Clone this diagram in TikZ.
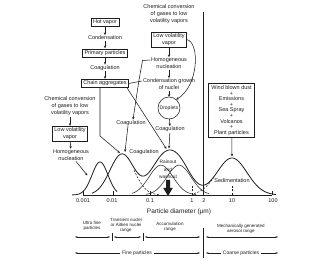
\documentclass[tikz,border=0pt]{standalone}
\usepackage{fontspec}
\setmainfont{Liberation Sans}
\usetikzlibrary{arrows.meta,calc}
\definecolor{ink}{HTML}{1E1E1E}
\begin{document}
\begin{tikzpicture}[x=1pt,y=-1pt,
  every node/.style={inner sep=0pt,outer sep=0pt,align=center,text=ink},
  txt/.style={font=\fontsize{5.5}{7}\selectfont},
  small/.style={font=\fontsize{4.8}{7.4}\selectfont},
  rng/.style={font=\fontsize{4.5}{5}\selectfont},
  rngb/.style={font=\fontsize{5}{6}\selectfont},
  box/.style={txt,draw=ink,line width=0.55pt,inner xsep=2pt,inner ysep=1.3pt},
  ln/.style={draw=ink,line width=0.55pt},
  arr/.style={ln,-{Stealth[length=2.8pt,width=2.3pt]}},
  dimarr/.style={ln,line width=0.5pt,-{Stealth[length=2.6pt,width=1.8pt]}},
  crv/.style={draw=ink,line width=0.8pt},
  sub/.style={draw=ink,line width=0.5pt},
  dsh/.style={draw=ink,line width=0.55pt,dash pattern=on 2pt off 1.5pt},
  declare function={g(\x,\c,\s)=exp(-0.5*((\x-\c)/\s)^2);},
]
\fill[white] (0,0) rectangle (330,261);
\useasboundingbox (0,0) rectangle (330,261);

% ---------- top left chain
\node[box] (hot) at (105,22.5) {Hot vapor};
\node[txt] (cond) at (105,38) {Condensation};
\node[box] (prim) at (105,53) {Primary particles};
\node[txt] (coag0) at (105,68) {Coagulation};
\node[box] (chain) at (105,83.5) {Chain aggregates};
\draw[arr,shorten <=0.8pt,shorten >=0.8pt] (hot) -- (cond);
\draw[arr,shorten <=0.8pt,shorten >=0.8pt] (cond) -- (prim);
\draw[arr,shorten <=0.8pt,shorten >=0.8pt] (prim) -- (coag0);
\draw[arr,shorten <=0.8pt,shorten >=0.8pt] (coag0) -- (chain);

% ---------- middle column
\node[txt] (chem1) at (169,14) {Chemical conversion\\of gases to low\\volatility vapors};
\node[box] (lvv1) at (169,39.5) {Low volatility\\vapor};
\node[txt] (hom1) at (169,63.5) {Homogeneous\\nucleation};
\node[txt] (cgn) at (169,84.5) {Condensation growth\\of nuclei};
\node[circle,draw=ink,line width=0.55pt,minimum size=22pt,font=\fontsize{5}{6}\selectfont] (drop) at (169,108) {Droplets};
\node[txt] (coag2) at (170,129.5) {Coagulation};
\node[txt] (coag1) at (131,123) {Coagulation};
\node[txt] (coag3) at (144,152.5) {Coagulation};
\draw[arr,shorten <=0.8pt,shorten >=0.8pt] (lvv1) -- (hom1);
\draw[arr,shorten <=0.8pt,shorten >=0.8pt] (hom1) -- (cgn);
\draw[arr,shorten <=0.8pt] (cgn) -- (drop);
\draw[arr,shorten >=0.8pt] (drop) -- (coag2);
\draw[arr] (lvv1.east) .. controls (200,42) and (199,86) .. (drop.50);

% ---------- curve peaks
\coordinate (pk1) at (100,162);
\coordinate (pk2) at (122,154);
\coordinate (pk3) at (170,150);
\coordinate (pk4) at (232,158);
\coordinate (m1l) at (87.5,175.5);

\draw[arr,shorten <=0.8pt] (coag2) -- ($(pk3)+(-1,-1.5)$);

% ---------- connectors from chain aggregates / nucleation
\draw[arr] ($(chain.south east)+(-2,0)$) -- ($(pk3)+(-3.5,-1)$);
\draw[arr] ($(chain.south)+(-5,0)$) -- (100,136) -- ($(pk2)+(-2,-1)$);
\draw[arr] ($(hom1.west)+(-1,-3.5)$) -- (142.5,60.5) -- (139,80) -- ($(coag1.north)+(2,-0.8)$);
\draw[ln] (chain.east) -- ($(cgn.west)+(-1,-3.5)$);
\draw[arr] ($(coag1.south)+(-3,0)$) -- ($(pk2)+(3,-2)$);

% ---------- lower left group
\node[txt] (chem2) at (70,106.5) {Chemical conversion\\of gases to low\\volatility vapors};
\node[box] (lvv2) at (70,134) {Low volatility\\vapor};
\node[txt] (hom2) at (71,155) {Homogeneous\\nucleation};
\draw[arr,shorten <=0.8pt,shorten >=0.8pt] (chem2) -- (lvv2);
\draw[arr,shorten <=0.8pt,shorten >=0.8pt] (lvv2) -- (hom2);
\draw[arr] ($(hom2.south)+(5,1)$) -- (m1l);

% ---------- right sources
\node[draw=ink,line width=0.55pt,font=\fontsize{5.5}{5.6}\selectfont,inner xsep=3pt,inner ysep=2pt] (src) at (231.5,110.5) {Wind blown dust\\+\\Emissions\\+\\Sea Spray\\+\\Volcanos\\+\\Plant particles};
\draw[arr] (src) -- ($(pk4)+(0,-1.5)$);
\node[txt] (sed) at (232,181) {Sedimentation};

% ---------- 2 um divider
\coordinate (vtop) at (203,12);
\coordinate (vbot) at (203,195);
\draw[ln] (vtop) -- (vbot);

% ---------- curves
\draw[crv] plot[domain=72:117,samples=50] (\x,{195-33*g(\x,100,8)});
\draw[crv] plot[domain=92:276,samples=190] (\x,{195-41*g(\x,122,12)-29.8*g(\x,161,12)-29.8*g(\x,179,12)-37*g(\x,232,15)});
\draw[dsh] plot[domain=134:160,samples=30] (\x,{195-41*g(\x,122,12)});
\draw[sub] plot[domain=132:196,samples=60] (\x,{195-29.8*g(\x,161,12)});
\draw[sub] plot[domain=146:209,samples=60] (\x,{195-29.8*g(\x,179,12)});
\draw[dsh] plot[domain=194:214,samples=20] (\x,{195-37*g(\x,232,15)});

% ---------- axis
\draw[ln] (83,195) -- (272,195);
\foreach \t in {83,113,150,272} \draw[ln] (\t,195) -- (\t,191.5);
\foreach \t in {192,232} \draw[dsh] (\t,195) -- (\t,185);
\node[txt] (t1) at (83,200.5) {0.001};
\node[txt] (t2) at (112,200.5) {0.01};
\node[txt] (t3) at (150,200.5) {0.1};
\node[txt] (t4) at (192,200.5) {1};
\node[txt] (t5) at (204,200.5) {2};
\node[txt] (t6) at (232,200.5) {10};
\node[txt] (t7) at (273,200.5) {100};
\node[font=\fontsize{6.5}{7}\selectfont] (xlab) at (179,212) {Particle diameter (\textmu m)};

% ---------- rainout
\node[small] (rain) at (168,169.5) {Rainout\\and\\washout};
\fill[ink] (166,180) -- (170,180) -- (170,188) -- (172.8,188) -- (168,196) -- (163.2,188) -- (166,188) -- cycle;

% ---------- ranges
\node[rng] (r1) at (92,226) {Ultra fine\\particles};
\node[rng] (r2) at (126,225) {Transient nuclei\\or Aitken nuclei\\range};
\node[rng] (r3) at (170,227) {Accumulation\\range};
\node[rng] (r4) at (241,228.5) {Mechanically generated\\aerosol range};
\coordinate (a0) at (75,237);
\coordinate (a1) at (110,237);
\coordinate (a2) at (114,237);
\coordinate (a3) at (141,237);
\coordinate (a4) at (145,237);
\coordinate (a5) at (200,237);
\coordinate (a6) at (206,237);
\coordinate (a7) at (278,237);
\draw[dimarr] (r1 |- a0) -- (a0);
\draw[dimarr] (r1 |- a0) -- (a1);
\draw[dimarr] (r2 |- a0) -- (a2);
\draw[dimarr] (r2 |- a0) -- (a3);
\draw[dimarr] (r3 |- a0) -- (a4);
\draw[dimarr] (r3 |- a0) -- (a5);
\draw[dimarr] (r4 |- a0) -- (a6);
\draw[dimarr] (r4 |- a0) -- (a7);
\draw[ln] (112,233) -- (112,241);
\draw[ln] (143,233) -- (143,241);
\coordinate (dtop) at (203,228);
\coordinate (dbot) at (203,258);
\draw[ln] (dtop) -- (dbot);
\node[rngb,fill=white,inner xsep=2pt] (fine) at (137,253) {Fine particles};
\node[rngb,fill=white,inner xsep=2pt] (coarse) at (241,253) {Coarse particles};
\coordinate (f0) at (75,253);
\coordinate (f1) at (200,253);
\coordinate (c0) at (206,253);
\coordinate (c1) at (278,253);
\draw[dimarr] (fine) -- (f0);
\draw[dimarr] (fine) -- (f1);
\draw[dimarr] (coarse) -- (c0);
\draw[dimarr] (coarse) -- (c1);
\end{tikzpicture}
\end{document}
